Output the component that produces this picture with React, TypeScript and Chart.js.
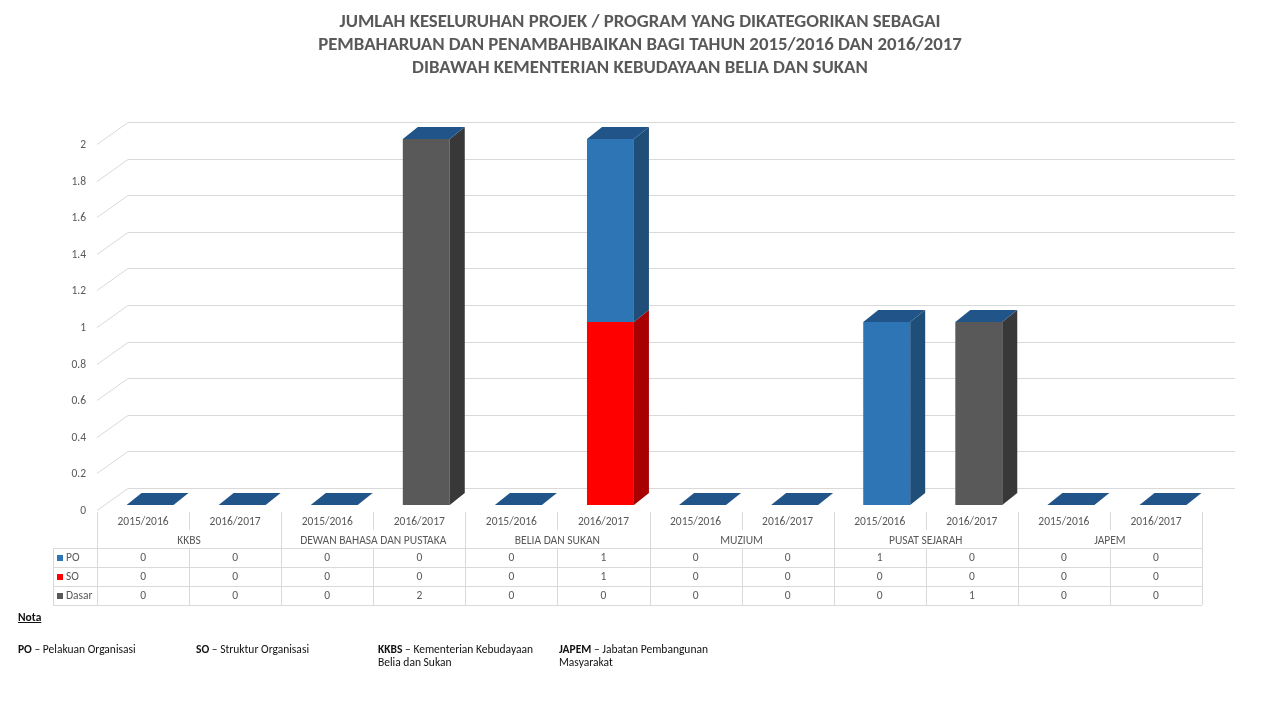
import React, { useEffect, useLayoutEffect, useRef } from 'react';
import { Chart, registerables } from 'chart.js';

Chart.register(...registerables);

// ---------- DATA ----------
const TITLE_LINES = [
  'JUMLAH KESELURUHAN PROJEK / PROGRAM YANG DIKATEGORIKAN SEBAGAI',
  'PEMBAHARUAN DAN PENAMBAHBAIKAN BAGI TAHUN 2015/2016 DAN 2016/2017',
  'DIBAWAH KEMENTERIAN KEBUDAYAAN BELIA DAN SUKAN',
];
const CATEGORIES = ['KKBS', 'DEWAN BAHASA DAN PUSTAKA', 'BELIA DAN SUKAN', 'MUZIUM', 'PUSAT SEJARAH', 'JAPEM'];
const YEARS = ['2015/2016', '2016/2017'];
const PO = [0, 0, 0, 0, 0, 1, 0, 0, 1, 0, 0, 0];
const SO = [0, 0, 0, 0, 0, 1, 0, 0, 0, 0, 0, 0];
const DASAR = [0, 0, 0, 2, 0, 0, 0, 0, 0, 1, 0, 0];
const Y_TICKS = [0, 0.2, 0.4, 0.6, 0.8, 1, 1.2, 1.4, 1.6, 1.8, 2];
const Y_TICK_LABELS = ['0', '0.2', '0.4', '0.6', '0.8', '1', '1.2', '1.4', '1.6', '1.8', '2'];
const NOTE_ITEMS = [
  { abbr: 'PO', text: 'Pelakuan Organisasi', second: '' },
  { abbr: 'SO', text: 'Struktur Organisasi', second: '' },
  { abbr: 'KKBS', text: 'Kementerian Kebudayaan', second: 'Belia dan Sukan' },
  { abbr: 'JAPEM', text: 'Jabatan Pembangunan', second: 'Masyarakat' },
];

// ---------- STYLE ----------
const FONT = 'Carlito, Calibri, Lato, "Open Sans", sans-serif';
const TEXT_GREY = '#595959';
const GRID = '#D9D9D9';
const COLORS = {
  PO: { front: '#2E75B6', side: '#1F4E79', top: '#21558A' },
  SO: { front: '#FF0000', side: '#A80000', top: '#C00000' },
  Dasar: { front: '#595959', side: '#383838', top: '#404040' },
};
// stacking order bottom -> top
const STACK = [
  { name: 'Dasar', data: DASAR, c: COLORS.Dasar },
  { name: 'SO', data: SO, c: COLORS.SO },
  { name: 'PO', data: PO, c: COLORS.PO },
];
// table row order
const TABLE_ROWS = [
  { name: 'PO', data: PO, c: COLORS.PO },
  { name: 'SO', data: SO, c: COLORS.SO },
  { name: 'Dasar', data: DASAR, c: COLORS.Dasar },
];

const LABELS = CATEGORIES.flatMap((c) => YEARS.map((y) => c + ' ' + y));

// 3D geometry
const FRONT_DX = -7, FRONT_DY = 5; // front plane relative to bar plane
const WALL_DX = 31, WALL_DY = -22; // back wall relative to front plane
const BAR_DX = 15, BAR_DY = -12; // bar depth

const threeD = {
  id: 'threeD',
  beforeDatasetsDraw(chart: any) {
    const { ctx, chartArea: a } = chart;
    const y = chart.scales.y;
    ctx.save();
    ctx.strokeStyle = GRID;
    ctx.lineWidth = 1;
    ctx.fillStyle = TEXT_GREY;
    ctx.font = '11.5px ' + FONT;
    ctx.textAlign = 'right';
    ctx.textBaseline = 'middle';
    Y_TICKS.forEach((v, i) => {
      const yf = Math.round(y.getPixelForValue(v) + FRONT_DY) + 0.5;
      const xf = a.left + FRONT_DX;
      ctx.beginPath();
      ctx.moveTo(xf, yf);
      ctx.lineTo(xf + WALL_DX, yf + WALL_DY);
      ctx.lineTo(a.right + FRONT_DX + WALL_DX + 2, yf + WALL_DY);
      ctx.stroke();
      ctx.fillText(Y_TICK_LABELS[i], xf - 11, yf + 1);
    });
    ctx.restore();
  },
  afterDatasetsDraw(chart: any) {
    const { ctx } = chart;
    const yS = chart.scales.y;
    ctx.save();
    const n = LABELS.length;
    for (let i = 0; i < n; i++) {
      let total = 0;
      let left = 0, right = 0;
      STACK.forEach((s, di) => {
        const el = chart.getDatasetMeta(di).data[i];
        const w = el.width;
        left = el.x - w / 2;
        right = el.x + w / 2;
        const v = s.data[i];
        if (v > 0) {
          const yTop = yS.getPixelForValue(total + v);
          const yBot = yS.getPixelForValue(total);
          ctx.fillStyle = s.c.side;
          ctx.beginPath();
          ctx.moveTo(right, yTop);
          ctx.lineTo(right + BAR_DX, yTop + BAR_DY);
          ctx.lineTo(right + BAR_DX, yBot + BAR_DY);
          ctx.lineTo(right, yBot);
          ctx.closePath();
          ctx.fill();
        }
        total += v;
      });
      const ty = yS.getPixelForValue(total);
      const topColor = STACK[STACK.length - 1].c.top;
      ctx.fillStyle = topColor;
      ctx.beginPath();
      ctx.moveTo(left, ty);
      ctx.lineTo(left + BAR_DX, ty + BAR_DY);
      ctx.lineTo(right + BAR_DX, ty + BAR_DY);
      ctx.lineTo(right, ty);
      ctx.closePath();
      ctx.fill();
    }
    ctx.restore();
  },
  afterDraw(chart: any) {
    const { ctx, chartArea: a } = chart;
    const n = LABELS.length;
    const x0 = a.left + FRONT_DX;
    const colW = (a.right - a.left) / n;
    const xR = x0 + n * colW;
    const legendLeft = 53;
    const yHdr = 512, yInner = 530;
    const rowTops = [548, 567, 586, 605];
    const px = (v: number) => Math.round(v) + 0.5;
    ctx.save();
    ctx.strokeStyle = GRID;
    ctx.lineWidth = 1;
    ctx.beginPath();
    rowTops.forEach((ry) => {
      ctx.moveTo(legendLeft, px(ry));
      ctx.lineTo(xR, px(ry));
    });
    ctx.moveTo(px(legendLeft), rowTops[0]);
    ctx.lineTo(px(legendLeft), rowTops[3]);
    for (let k = 0; k <= n; k++) {
      const x = px(x0 + k * colW);
      if (k % YEARS.length === 0) {
        ctx.moveTo(x, yHdr);
        ctx.lineTo(x, rowTops[3]);
      } else {
        ctx.moveTo(x, yHdr);
        ctx.lineTo(x, yInner);
        ctx.moveTo(x, rowTops[0]);
        ctx.lineTo(x, rowTops[3]);
      }
    }
    ctx.stroke();

    ctx.fillStyle = TEXT_GREY;
    ctx.font = '11.5px ' + FONT;
    ctx.textAlign = 'center';
    ctx.textBaseline = 'middle';
    for (let i = 0; i < n; i++) {
      const cx = x0 + (i + 0.5) * colW;
      ctx.fillText(YEARS[i % YEARS.length], cx, 522);
      TABLE_ROWS.forEach((r, ri) => {
        ctx.fillStyle = TEXT_GREY;
        ctx.fillText(String(r.data[i]), cx, (rowTops[ri] + rowTops[ri + 1]) / 2 + 1);
      });
    }
    CATEGORIES.forEach((c, ci) => {
      const cx = x0 + (ci + 0.5) * colW * YEARS.length;
      ctx.fillText(c, cx, 541);
    });
    ctx.textAlign = 'left';
    TABLE_ROWS.forEach((r, ri) => {
      const cy = (rowTops[ri] + rowTops[ri + 1]) / 2;
      ctx.fillStyle = r.c.front;
      ctx.fillRect(57, Math.round(cy) - 3, 6, 6);
      ctx.fillStyle = TEXT_GREY;
      ctx.fillText(r.name, 66, cy + 1);
    });
    ctx.restore();
  },
};

const TITLE_TARGETS = [
  { w: 601, cy: 21 },
  { w: 644, cy: 44 },
  { w: 456, cy: 67 },
];

function Title() {
  const refs = useRef<(HTMLSpanElement | null)[]>([]);
  useLayoutEffect(() => {
    refs.current.forEach((el, i) => {
      if (!el) return;
      const w = el.offsetWidth;
      if (w > 0) el.style.transform = 'translateX(-50%) scaleX(' + TITLE_TARGETS[i].w / w + ')';
    });
  }, []);
  return (
    <>
      {TITLE_LINES.map((t, i) => (
        <span
          key={i}
          ref={(el) => { refs.current[i] = el; }}
          style={{
            position: 'absolute',
            left: 640,
            top: TITLE_TARGETS[i].cy - 11,
            whiteSpace: 'nowrap',
            fontFamily: FONT,
            fontWeight: 700,
            fontSize: 18,
            lineHeight: '22px',
            color: TEXT_GREY,
            transformOrigin: '50% 50%',
            transform: 'translateX(-50%)',
          }}
        >
          {t}
        </span>
      ))}
    </>
  );
}

const NOTE_X = [18, 196, 378, 559];

function Notes() {
  const base: React.CSSProperties = {
    position: 'absolute',
    fontFamily: FONT,
    fontSize: 11.5,
    lineHeight: '13px',
    color: '#111',
    whiteSpace: 'nowrap',
  };
  return (
    <>
      <div style={{ ...base, left: 18, top: 611, fontWeight: 700, textDecoration: 'underline' }}>Nota</div>
      {NOTE_ITEMS.map((it, i) => (
        <div key={i} style={{ ...base, left: NOTE_X[i], top: 643 }}>
          <b>{it.abbr}</b> – {it.text}
          {it.second ? (
            <>
              <br />
              {it.second}
            </>
          ) : null}
        </div>
      ))}
    </>
  );
}

export default function App() {
  const canvasRef = useRef<HTMLCanvasElement | null>(null);
  useEffect(() => {
    const canvas = canvasRef.current;
    if (!canvas) return;
    const chart = new Chart(canvas, {
      type: 'bar',
      data: {
        labels: LABELS,
        datasets: STACK.map((s) => ({
          label: s.name,
          data: s.data,
          backgroundColor: s.c.front,
          borderWidth: 0,
          barPercentage: 0.51,
          categoryPercentage: 1,
        })),
      },
      options: {
        animation: false,
        responsive: false,
        devicePixelRatio: 1,
        layout: { padding: { left: 104, right: 71, top: 139, bottom: 215 } },
        plugins: { legend: { display: false }, tooltip: { enabled: false }, title: { display: false } },
        scales: {
          x: { stacked: true, display: false },
          y: { stacked: true, display: false, min: 0, max: 2 },
        },
      },
      plugins: [threeD],
    });
    return () => chart.destroy();
  }, []);

  return (
    <div style={{ position: 'fixed', left: 0, top: 0, width: 1280, height: 720, background: '#fff', overflow: 'hidden' }}>
      <canvas ref={canvasRef} width={1280} height={720} style={{ position: 'absolute', left: 0, top: 0 }} />
      <Title />
      <Notes />
    </div>
  );
}
